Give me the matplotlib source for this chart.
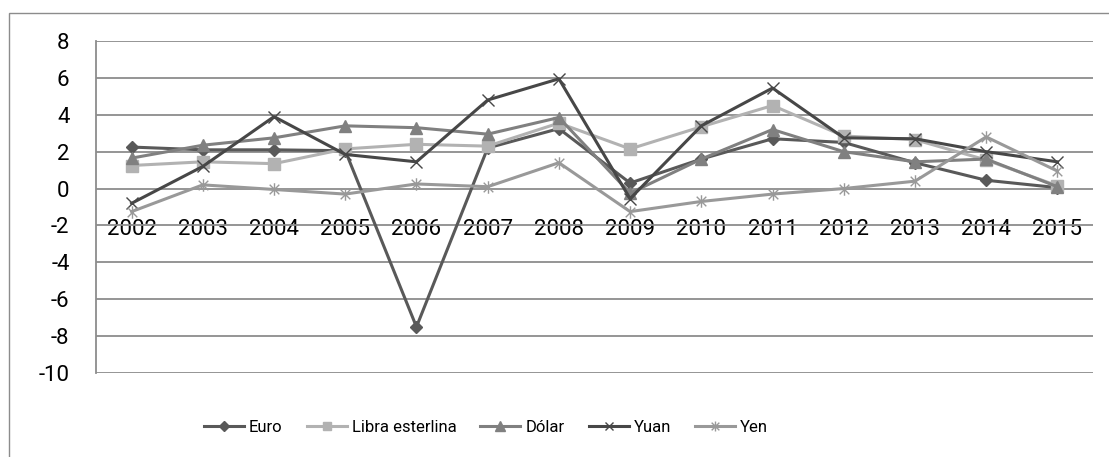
import matplotlib.pyplot as plt
from matplotlib.path import Path
from matplotlib.patches import Rectangle

years = ['2002', '2003', '2004', '2005', '2006', '2007', '2008',
         '2009', '2010', '2011', '2012', '2013', '2014', '2015']

euro = [2.25, 2.1, 2.1, 2.05, -7.5, 2.2, 3.25, 0.3, 1.6, 2.7, 2.5, 1.4, 0.45, 0.05]
libra = [1.25, 1.45, 1.35, 2.15, 2.4, 2.3, 3.55, 2.15, 3.35, 4.5, 2.85, 2.65, 1.55, 0.15]
dolar = [1.65, 2.35, 2.75, 3.4, 3.3, 2.95, 3.85, -0.25, 1.6, 3.2, 2.0, 1.45, 1.6, 0.1]
yuan = [-0.8, 1.2, 3.9, 1.85, 1.45, 4.8, 5.95, -0.55, 3.4, 5.45, 2.75, 2.7, 2.0, 1.45]
yen = [-1.25, 0.2, -0.05, -0.3, 0.25, 0.1, 1.4, -1.25, -0.7, -0.3, 0.0, 0.4, 2.8, 0.95]

series = ['Euro', 'Libra esterlina', 'Dólar', 'Yuan', 'Yen']
yticks = [8, 6, 4, 2, 0, -2, -4, -6, -8, -10]

plt.rcParams['font.family'] = ['Roboto', 'DejaVu Sans']

# Excel style "star" marker: x plus a vertical bar
star = Path([(-1, -1), (1, 1), (-1, 1), (1, -1), (0, -1.3), (0, 1.3)],
            [Path.MOVETO, Path.LINETO, Path.MOVETO, Path.LINETO, Path.MOVETO, Path.LINETO])

fig = plt.figure(figsize=(11.09, 4.57), dpi=100)
ax = fig.add_axes([96/1109, 1 - 373/457, (1093 - 96)/1109, (373 - 41)/457])

x = range(len(years))
ax.plot(x, euro, color='#595959', lw=2.2, marker='D', ms=6.5, label=series[0])
ax.plot(x, libra, color='#b2b2b2', lw=2.2, marker='s', ms=8, label=series[1])
ax.plot(x, dolar, color='#808080', lw=2.2, marker='^', ms=8.5, label=series[2])
ax.plot(x, yuan, color='#474747', lw=2.2, marker='x', ms=8, mew=1, label=series[3])
ax.plot(x, yen, color='#999999', lw=2.2, marker=star, ms=9, mew=1, label=series[4])

ax.set_xlim(-0.5, len(years) - 0.5)
ax.set_ylim(-10, 8)
ax.set_yticks(yticks)
ax.set_yticklabels([str(v) for v in yticks])
ax.set_xticks(list(x))
ax.set_xticklabels(years)
ax.grid(axis='y', color='#8c8c8c', lw=1.3)
ax.set_axisbelow(True)

for s in ['top', 'right']:
    ax.spines[s].set_visible(False)
ax.spines['left'].set_color('#8c8c8c')
ax.spines['left'].set_linewidth(1.3)
ax.spines['bottom'].set_position(('data', 0))
ax.spines['bottom'].set_visible(False)
ax.tick_params(axis='y', length=0, pad=19, labelsize=16)
ax.tick_params(axis='x', length=0, pad=22, labelsize=16)

ax.legend(loc='center', bbox_to_anchor=(486 / 1109, (457 - 427) / 457), bbox_transform=fig.transFigure,
          ncol=5, frameon=False, fontsize=12, handlelength=2.4, handletextpad=0.3,
          columnspacing=1.45, borderaxespad=0, markerscale=0.8)

# outer chart frame (only left and top edges show)
fig.add_artist(Rectangle((9/1109, -0.1), 1.2, 1.1 - 13/457, transform=fig.transFigure,
                         fill=False, edgecolor='#8c8c8c', lw=1))

fig.savefig('out.png', dpi=100)
